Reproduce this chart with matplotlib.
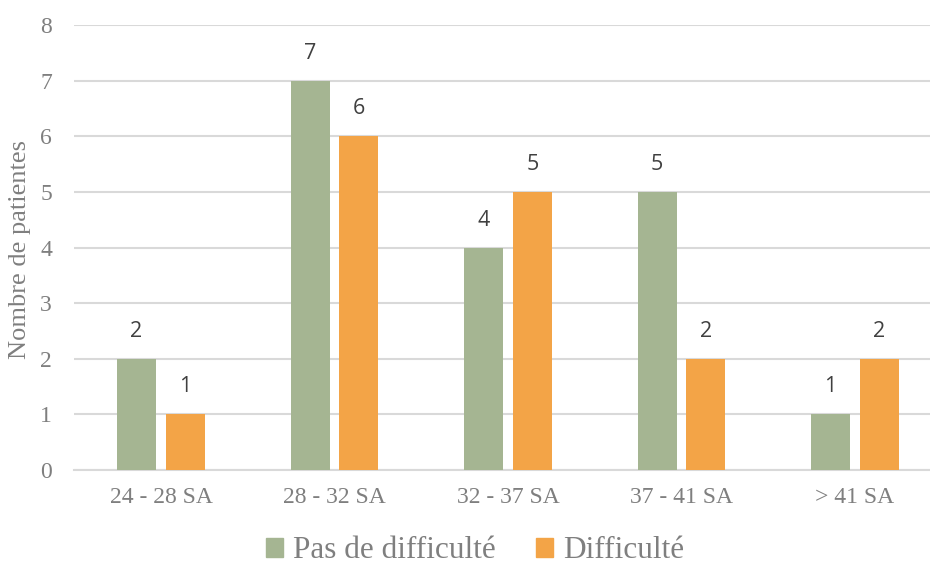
import matplotlib
matplotlib.use("Agg")
import matplotlib.pyplot as plt
import numpy as np
from matplotlib.patches import Patch
from matplotlib.font_manager import FontProperties

categories = ["24 - 28 SA", "28 - 32 SA", "32 - 37 SA", "37 - 41 SA", "> 41 SA"]
pas_difficulte = [2, 7, 4, 5, 1]
difficulte = [1, 6, 5, 2, 2]
series_names = ["Pas de difficulté", "Difficulté"]
colors = ["#A5B592", "#F3A447"]

W, H = 930, 565
fig = plt.figure(figsize=(W / 100, H / 100), dpi=100)
left, right = 74.25, 941.75
bottom, top = 470, 25
ax = fig.add_axes([left / W, (H - bottom) / H, (right - left) / W, (bottom - top) / H])

x = np.arange(len(categories))
bw = 0.225
off = 0.141
tick_color = "#7F7F7F"
serif = ["Liberation Serif", "DejaVu Serif"]

for vals, sgn, col in [(pas_difficulte, -1, colors[0]), (difficulte, 1, colors[1])]:
    bars = ax.bar(x + sgn * off, vals, bw, color=col, zorder=3)
    for b, v in zip(bars, vals):
        ax.annotate(str(v), (b.get_x() + b.get_width() / 2, v), xytext=(0, 17),
                    textcoords="offset pixels",
                    ha="center", va="bottom", fontsize=15.5, color="#404040",
                    family=["Open Sans", "DejaVu Sans"])

ax.set_xlim(-0.5, len(categories) - 0.5)
ax.set_ylim(0, 8)
ax.set_yticks(range(0, 9))
ax.yaxis.grid(True, color="#D9D9D9", linewidth=1.5, zorder=0)
ax.set_axisbelow(True)
for s in ["top", "right", "left"]:
    ax.spines[s].set_visible(False)
ax.spines["bottom"].set_color("#D9D9D9")
ax.spines["bottom"].set_linewidth(1.5)
ax.tick_params(axis="both", length=0, colors=tick_color)
ax.tick_params(axis="y", pad=16, labelsize=17)
ax.tick_params(axis="x", pad=12, labelsize=17)
ax.set_xticks(x)
ax.set_xticklabels(categories)
for lab in ax.get_xticklabels() + ax.get_yticklabels():
    lab.set_family(serif)

fig.text(20 / W, 1 - 249 / H, "Nombre de patientes", rotation=90, ha="center", va="center",
         fontsize=19, color=tick_color, family=serif)

handles = [Patch(color=c, label=n) for c, n in zip(colors, series_names)]
leg_font = FontProperties(family="Liberation Serif", size=22.5)
leg = fig.legend(handles=handles, loc="center", bbox_to_anchor=(475 / W, 1 - 551 / H), ncol=2,
                 frameon=False, prop=leg_font, handlelength=0.55, handleheight=0.55,
                 handletextpad=0.3, columnspacing=1.3)
for t in leg.get_texts():
    t.set_color(tick_color)

fig.savefig("out.png", dpi=100)
